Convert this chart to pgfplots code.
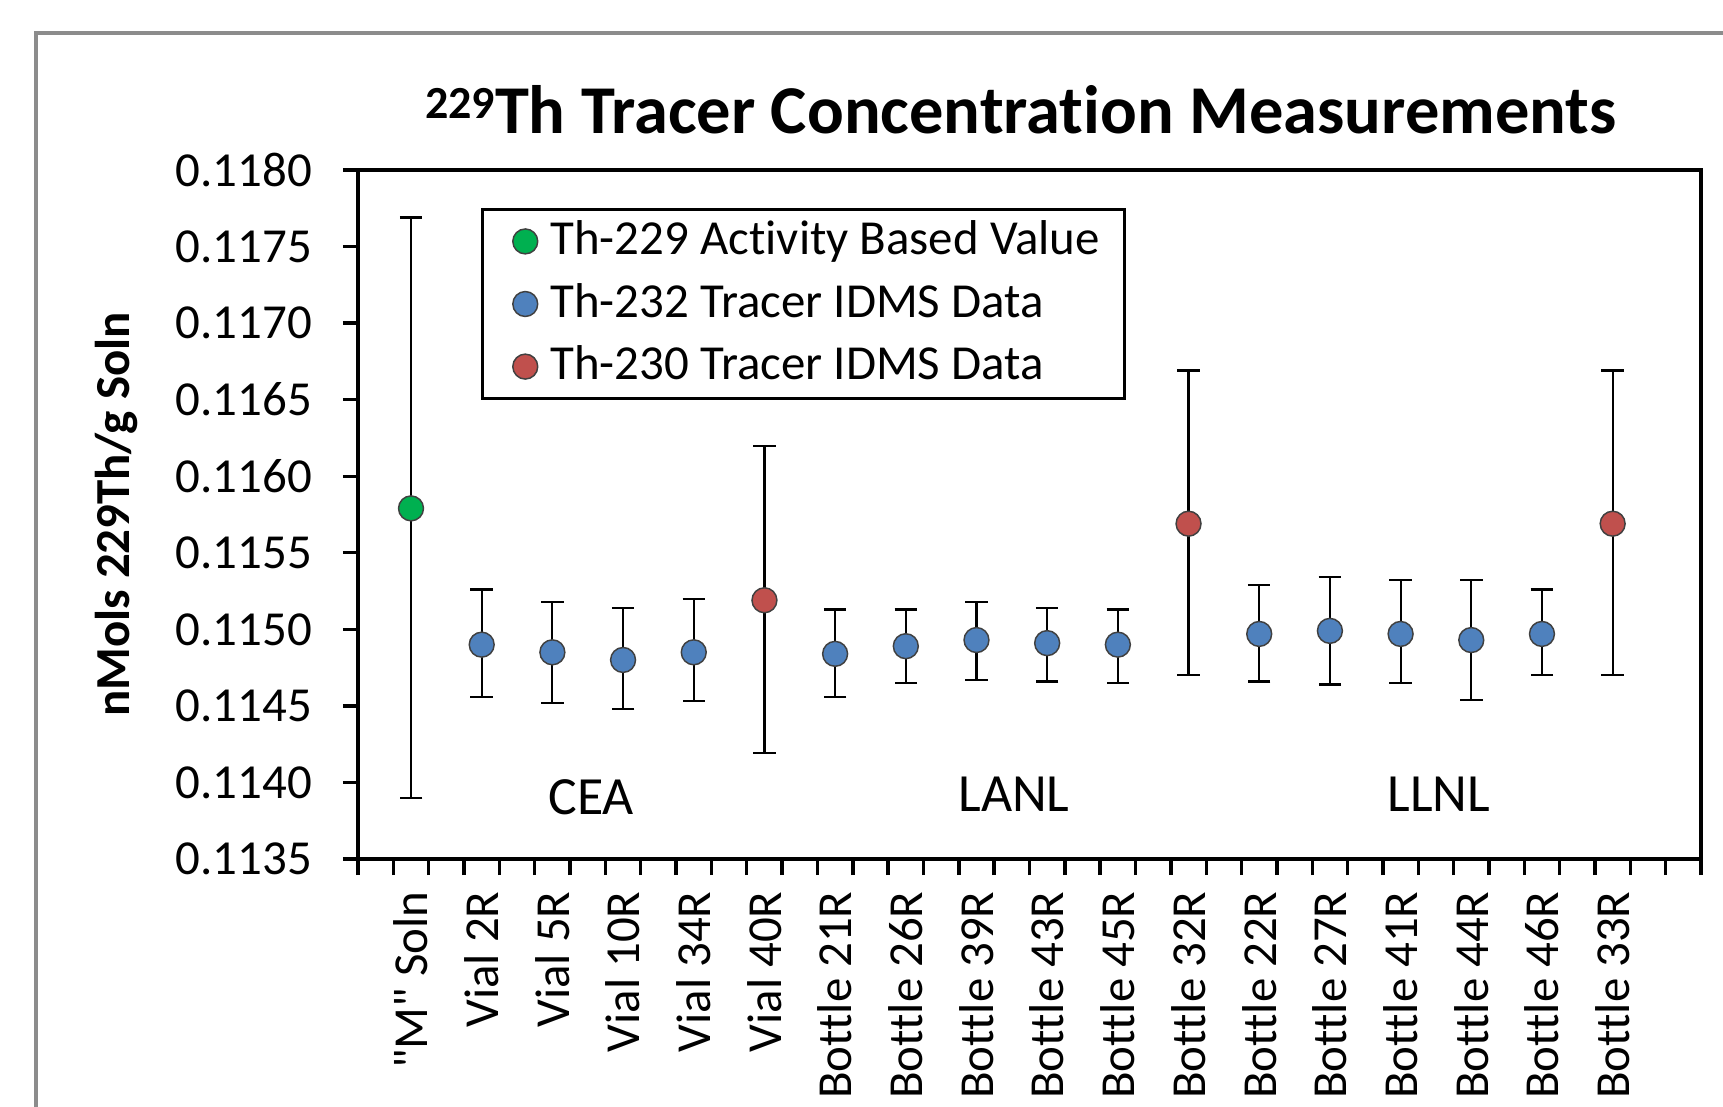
\documentclass[border=0pt]{standalone}
\usepackage{fontspec}
\setmainfont{Carlito}[Ligatures={TeXOff,NoCommon}]
\usepackage{pgfplots}
\pgfplotsset{compat=1.18}
\usepackage{pgfplotstable}
\definecolor{cgreen}{HTML}{00B050}
\definecolor{cblue}{HTML}{4F81BD}
\definecolor{cred}{HTML}{C0504D}
\definecolor{framegray}{HTML}{8C8C8C}

\pgfplotstableread{
x y ep em
0 0.11579 0.00190 0.00189
}\greendata

\pgfplotstableread{
x y ep em
1 0.11490 0.00036 0.00034
2 0.11485 0.00033 0.00033
3 0.11480 0.00034 0.00032
4 0.11485 0.00035 0.00032
6 0.11484 0.00029 0.00028
7 0.11489 0.00024 0.00024
8 0.11493 0.00025 0.00026
9 0.11491 0.00023 0.00025
10 0.11490 0.00023 0.00025
12 0.11497 0.00032 0.00031
13 0.11499 0.00035 0.00035
14 0.11497 0.00035 0.00032
15 0.11493 0.00039 0.00039
16 0.11497 0.00029 0.00027
}\bluedata

\pgfplotstableread{
x y ep em
5 0.11519 0.00101 0.00100
11 0.11569 0.00100 0.00099
17 0.11569 0.00100 0.00099
}\reddata

\begin{document}
\begin{tikzpicture}
\path[use as bounding box] (-73.21pt,-50.51pt) rectangle (279.14pt,175.67pt);
\draw[framegray, line width=0.82pt] (-65.85pt,-80pt) -- (-65.85pt,168.92pt) -- (300pt,168.92pt);
\begin{axis}[
  at={(0pt,0pt)}, anchor=south west,
  scale only axis, width=274.64pt, height=140.90pt,
  xmin=-0.75, xmax=18.25, ymin=0.1135, ymax=0.1180,
  axis line style={black, line width=0.75pt},
  tick pos=left, tick align=outside,
  major tick length=3.1pt, minor tick length=3.3pt,
  xtick={0,1,2,3,4,5,6,7,8,9,10,11,12,13,14,15,16,17},
  xticklabels={{"M" Soln},{Vial 2R},{Vial 5R},{Vial 10R},{Vial 34R},{Vial 40R},{Bottle 21R},{Bottle 26R},{Bottle 39R},{Bottle 43R},{Bottle 45R},{Bottle 32R},{Bottle 22R},{Bottle 27R},{Bottle 41R},{Bottle 44R},{Bottle 46R},{Bottle 33R}},
  minor xtick={-0.75,-0.25,...,18.25},
  major x tick style={draw=none},
  minor x tick style={black, line width=0.7pt},
  ytick={0.1135,0.114,0.1145,0.115,0.1155,0.116,0.1165,0.117,0.1175,0.118},
  y tick style={black, line width=0.7pt},
  scaled y ticks=false,
  yticklabel style={xshift=-2.8pt, /pgf/number format/fixed, /pgf/number format/fixed zerofill, /pgf/number format/precision=4, /pgf/number format/assume math mode=true},
  tick label style={font=\fontsize{10}{12}\selectfont},
  xticklabel style={rotate=90, anchor=east},
  ylabel={nMols 229Th/g Soln},
  ylabel style={font=\bfseries\fontsize{10}{12}\selectfont, at={(rel axis cs:-0.1795,0.5)}, anchor=center},
  title={\raisebox{3pt}{\fontsize{9.4}{10}\selectfont 229}Th Tracer Concentration Measurements},
  title style={font=\bfseries\fontsize{14}{17}\selectfont, at={(rel axis cs:0.4937,1)}, anchor=base, yshift=1.5pt},
  legend style={at={(rel axis cs:0.0916,0.9448)}, anchor=north west, draw=black, line width=0.65pt,
     font=\fontsize{10}{12}\selectfont, inner xsep=4.3pt, inner ysep=1.4pt, row sep=2.6pt,
     nodes={inner sep=0.8pt, text height=7.0pt, text depth=1.6pt},
     /tikz/every odd column/.append style={column sep=1.8pt}},
  legend cell align=left,
  legend image code/.code={\path (-4.1pt,0pt); \draw[#1, only marks] plot coordinates {(0pt,0pt)};},
]
\addplot[only marks, mark=*, mark size=2.55pt, mark options={fill=cgreen, draw=black!75, line width=0.3pt},
  error bars/.cd, y dir=both, y explicit,
  error bar style={black, line width=0.45pt},
  error mark options={rotate=90, black, mark size=2.3pt, line width=0.45pt}]
  table[x=x, y=y, y error plus=ep, y error minus=em] {\greendata};
\addlegendentry{Th-229 Activity Based Value}
\addplot[only marks, mark=*, mark size=2.55pt, mark options={fill=cblue, draw=black!75, line width=0.3pt},
  error bars/.cd, y dir=both, y explicit,
  error bar style={black, line width=0.45pt},
  error mark options={rotate=90, black, mark size=2.3pt, line width=0.45pt}]
  table[x=x, y=y, y error plus=ep, y error minus=em] {\bluedata};
\addlegendentry{Th-232 Tracer IDMS Data}
\addplot[only marks, mark=*, mark size=2.55pt, mark options={fill=cred, draw=black!75, line width=0.3pt},
  error bars/.cd, y dir=both, y explicit,
  error bar style={black, line width=0.45pt},
  error mark options={rotate=90, black, mark size=2.3pt, line width=0.45pt}]
  table[x=x, y=y, y error plus=ep, y error minus=em] {\reddata};
\addlegendentry{Th-230 Tracer IDMS Data}
\node[font=\fontsize{11}{13}\selectfont, anchor=base] at (axis cs:2.55,0.11379) {CEA};
\node[font=\fontsize{11}{13}\selectfont, anchor=base] at (axis cs:8.53,0.11381) {LANL};
\node[font=\fontsize{11}{13}\selectfont, anchor=base] at (axis cs:14.54,0.11381) {LLNL};
\end{axis}
\end{tikzpicture}
\end{document}
